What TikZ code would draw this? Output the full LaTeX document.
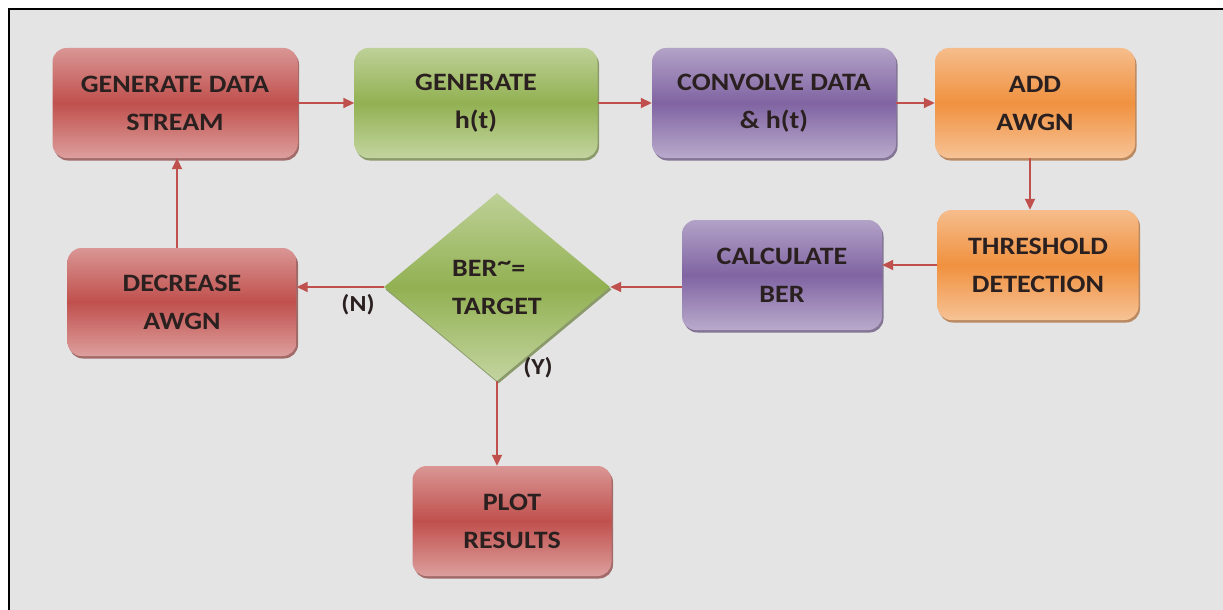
\documentclass[tikz,border=0pt]{standalone}
\usepackage{fontspec}
\setmainfont{Carlito}[FakeStretch=1.12]
\usetikzlibrary{shapes.geometric,shadows,arrows.meta}
\definecolor{fond}{HTML}{E4E4E4}
\definecolor{texte}{HTML}{2B2020}
\definecolor{fleche}{HTML}{C0504D}
\definecolor{rouge}{HTML}{C0504D}
\definecolor{vert}{HTML}{92B152}
\definecolor{violet}{HTML}{8064A2}
\definecolor{orange}{HTML}{F0913F}
\tikzset{
  boite/.style={rectangle, rounded corners=14pt, inner sep=0pt, align=center,
    text=texte, font=\bfseries\fontsize{25}{38}\selectfont,
    minimum width=200pt, minimum height=110pt},
  teinte/.style={top color=#1!60!white, bottom color=#1!55!white, middle color=#1,
    drop shadow={shadow xshift=1.5pt, shadow yshift=-2.5pt, fill=#1!70!black, opacity=.7}},
  lien/.style={draw=fleche, line width=1.8pt, -{Triangle[length=11pt,width=10pt]}},
  etiq/.style={text=texte, font=\bfseries\fontsize{23}{26}\selectfont, inner sep=0pt}
}
\begin{document}
\begin{tikzpicture}[x=1pt, y=-1pt]
	\useasboundingbox (0,0) rectangle (1223,610);
	\fill[white] (0,0) rectangle (1223,610);
	\fill[fond] (9,9) rectangle (1223,610); % fond gris
	\draw[line width=2.5pt] (9,620) -- (9,9) -- (1230,9); % cadre
	% ligne du haut
	\node[boite, teinte=rouge, minimum width=245pt] (gds) at (175,103) {GENERATE DATA\\STREAM};
	\node[boite, teinte=vert, minimum width=243pt] (gh) at (476,103) {GENERATE\\h(t)};
	\node[boite, teinte=violet, minimum width=244pt] (conv) at (774,103) {CONVOLVE DATA\\\& h(t)};
	\node[boite, teinte=orange] (add) at (1035,103) {ADD\\AWGN};
	% ligne du milieu
	\node[boite, teinte=orange, minimum width=201pt] (seuil) at (1038,265) {THRESHOLD\\DETECTION};
	\node[boite, teinte=violet] (calc) at (782,275) {CALCULATE\\BER};
	\node[diamond, teinte=vert, inner sep=0pt, minimum width=226pt, minimum height=188pt,
		align=left, text=texte, font=\bfseries\fontsize{25}{38}\selectfont] (ber) at (497,287)
		{BER\raisebox{0.45ex}{\textasciitilde}=\\TARGET};
	\node[boite, teinte=rouge, minimum width=229pt, minimum height=108pt] (dec) at (182,302) {DECREASE\\AWGN};
	% resultat
	\node[boite, teinte=rouge, minimum width=199pt] (plot) at (512,521) {PLOT\\RESULTS};
	% les fleches
	\draw[lien] (gds) -- (gh);
	\draw[lien] (gh) -- (conv);
	\draw[lien] (conv) -- (add);
	\draw[lien] ([xshift=-5pt]add.south) -- ([xshift=-5pt]add.south |- seuil.north);
	\draw[lien] (seuil.west) -- (seuil.west -| calc.east);
	\draw[lien] (ber.east -| calc.west) -- (ber.east);
	\draw[lien] (ber.west) -- (ber.west -| dec.east);
	\draw[lien] ([xshift=-5pt]dec.north) -- ([xshift=-5pt]dec.north |- gds.south);
	\draw[lien] (ber.south) -- (ber.south |- plot.north);
	% les etiquettes
	\node[etiq] (non) at (358,305) {(N)};
	\node[etiq] (oui) at (538,368) {(Y)};
\end{tikzpicture}
\end{document}
